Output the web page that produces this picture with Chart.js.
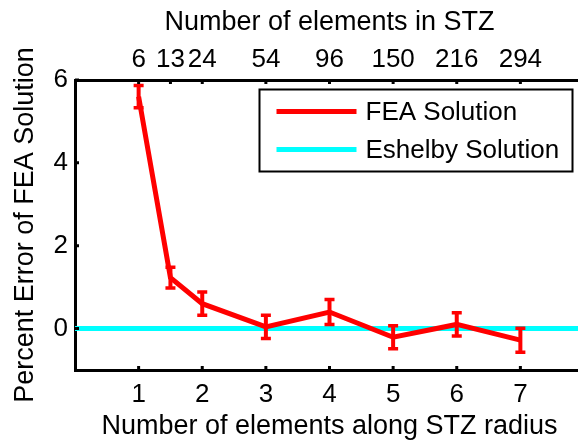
<!DOCTYPE html>
<html>
<head>
<meta charset="utf-8">
<script src="https://cdn.jsdelivr.net/npm/chart.js@4/dist/chart.umd.min.js"></script>
<style>
  html, body { margin: 0; padding: 0; background: #fff; overflow: hidden; }
  #clip { width: 578px; height: 446px; overflow: hidden; position: relative; }
  #inner { width: 600px; height: 446px; }
</style>
</head>
<body>
<div id="clip"><div id="inner"><canvas id="c" width="600" height="446"></canvas></div></div>
<script>
// ---- data ----
const radius = [1, 1.5, 2, 3, 4, 5, 6, 7];
const feaError = [5.6, 1.23, 0.6, 0.04, 0.4, -0.21, 0.1, -0.28];
const feaErrBar = [0.27, 0.25, 0.28, 0.28, 0.3, 0.28, 0.28, 0.29];
const eshelbyX = [0, 8];
const eshelbyY = [0, 0];
const bottomTicks = [1, 2, 3, 4, 5, 6, 7];
const leftTicks = [0, 2, 4, 6];
const topTickPos = [1, 1.5, 2, 3, 4, 5, 6, 7];
const topTickLabels = ['6', '13', '24', '54', '96', '150', '216', '294'];
const seriesNames = ['FEA Solution', 'Eshelby Solution'];

const FONT = 'Liberation Sans, Arial, Helvetica, sans-serif';
Chart.defaults.font.family = FONT;
Chart.defaults.color = '#000';

const errorBars = {
  id: 'errorBars',
  afterDatasetsDraw(chart) {
    const { ctx, scales: { x, y } } = chart;
    ctx.save();
    ctx.strokeStyle = '#ff0000';
    radius.forEach((r, i) => {
      const px = x.getPixelForValue(r);
      const top = y.getPixelForValue(feaError[i] + feaErrBar[i]);
      const bot = y.getPixelForValue(feaError[i] - feaErrBar[i]);
      ctx.lineWidth = 4;
      ctx.beginPath();
      ctx.moveTo(px, top); ctx.lineTo(px, bot);
      ctx.stroke();
      ctx.lineWidth = 3.5;
      ctx.beginPath();
      ctx.moveTo(px - 5, top); ctx.lineTo(px + 5, top);
      ctx.moveTo(px - 5, bot); ctx.lineTo(px + 5, bot);
      ctx.stroke();
    });
    ctx.restore();
  }
};

const inwardTicks = {
  id: 'inwardTicks',
  afterDraw(chart) {
    const { ctx, chartArea: a, scales } = chart;
    ctx.save();
    ctx.strokeStyle = '#000';
    ctx.lineWidth = 3;
    ctx.beginPath();
    scales.x.ticks.forEach(t => {
      const p = scales.x.getPixelForValue(t.value);
      ctx.moveTo(p, a.bottom); ctx.lineTo(p, a.bottom - 4);
    });
    scales.x2.ticks.forEach(t => {
      const p = scales.x2.getPixelForValue(t.value);
      ctx.moveTo(p, a.top); ctx.lineTo(p, a.top + 4);
    });
    scales.y.ticks.forEach(t => {
      const p = scales.y.getPixelForValue(t.value);
      ctx.moveTo(a.left, p); ctx.lineTo(a.left + 4, p);
    });
    ctx.stroke();
    ctx.restore();
  }
};

const boxLegend = {
  id: 'boxLegend',
  afterDraw(chart) {
    const { ctx } = chart;
    const L = 259.5, T = 89.5, W = 313, H = 82;
    ctx.save();
    ctx.fillStyle = '#fff';
    ctx.fillRect(L, T, W, H);
    ctx.strokeStyle = '#000';
    ctx.lineWidth = 2;
    ctx.strokeRect(L, T, W, H);
    const rows = [T + 22, T + 60];
    chart.data.datasets.forEach((ds, i) => {
      ctx.strokeStyle = ds.borderColor;
      ctx.lineWidth = 5;
      ctx.beginPath();
      ctx.moveTo(L + 17, rows[i]); ctx.lineTo(L + 97, rows[i]);
      ctx.stroke();
      ctx.fillStyle = '#000';
      ctx.font = '26px ' + FONT;
      ctx.textBaseline = 'middle';
      ctx.textAlign = 'left';
      ctx.fillText(ds.label, L + 106, rows[i] + 1);
    });
    ctx.restore();
  }
};

new Chart(document.getElementById('c'), {
  type: 'line',
  data: {
    datasets: [
      {
        label: seriesNames[0],
        data: radius.map((r, i) => ({ x: r, y: feaError[i] })),
        borderColor: '#ff0000',
        backgroundColor: '#ff0000',
        borderWidth: 5,
        pointRadius: 0,
        tension: 0,
        xAxisID: 'x', yAxisID: 'y'
      },
      {
        label: seriesNames[1],
        data: eshelbyX.map((v, i) => ({ x: v, y: eshelbyY[i] })),
        borderColor: '#00ffff',
        backgroundColor: '#00ffff',
        borderWidth: 5,
        pointRadius: 0,
        xAxisID: 'x', yAxisID: 'y'
      }
    ]
  },
  options: {
    responsive: false,
    animation: false,
    devicePixelRatio: 1,
    layout: { padding: { left: 0, right: 16, top: 0, bottom: 0 } },
    plugins: { legend: { display: false }, tooltip: { enabled: false } },
    scales: {
      x: {
        type: 'linear', position: 'bottom', min: 0, max: 8,
        afterBuildTicks: s => { s.ticks = bottomTicks.map(v => ({ value: v })); },
        afterFit: s => { s.height = 76; },
        grid: { display: true, drawOnChartArea: false, drawTicks: false },
        border: { display: true, color: '#000', width: 3 },
        ticks: { padding: 9, font: { size: 26 }, color: '#000', autoSkip: false, maxRotation: 0 },
        title: { display: true, text: 'Number of elements along STZ radius', font: { size: 27 }, color: '#000', padding: { top: 0, bottom: 3 } }
      },
      x2: {
        type: 'linear', position: 'top', min: 0, max: 8,
        afterBuildTicks: s => { s.ticks = topTickPos.map(v => ({ value: v })); },
        afterFit: s => { s.height = 80; },
        grid: { display: true, drawOnChartArea: false, drawTicks: false },
        border: { display: true, color: '#000', width: 3 },
        ticks: {
          padding: 5, font: { size: 26 }, color: '#000', autoSkip: false, maxRotation: 0,
          callback: (v) => { const i = topTickPos.indexOf(v); return i >= 0 ? topTickLabels[i] : ''; }
        },
        title: { display: true, text: 'Number of elements in STZ', font: { size: 27 }, color: '#000', padding: { top: 6, bottom: 0 } }
      },
      y: {
        type: 'linear', position: 'left', min: -1, max: 6,
        afterBuildTicks: s => { s.ticks = leftTicks.map(v => ({ value: v })); },
        afterFit: s => { s.width = 75; },
        grid: { display: true, drawOnChartArea: false, drawTicks: false },
        border: { display: true, color: '#000', width: 3 },
        ticks: { padding: 7, font: { size: 26 }, color: '#000' },
        title: { display: true, text: 'Percent Error of FEA Solution', font: { size: 27 }, color: '#000', padding: { top: 9, bottom: 0 } }
      }
    }
  },
  plugins: [errorBars, inwardTicks, boxLegend]
});
</script>
</body>
</html>
